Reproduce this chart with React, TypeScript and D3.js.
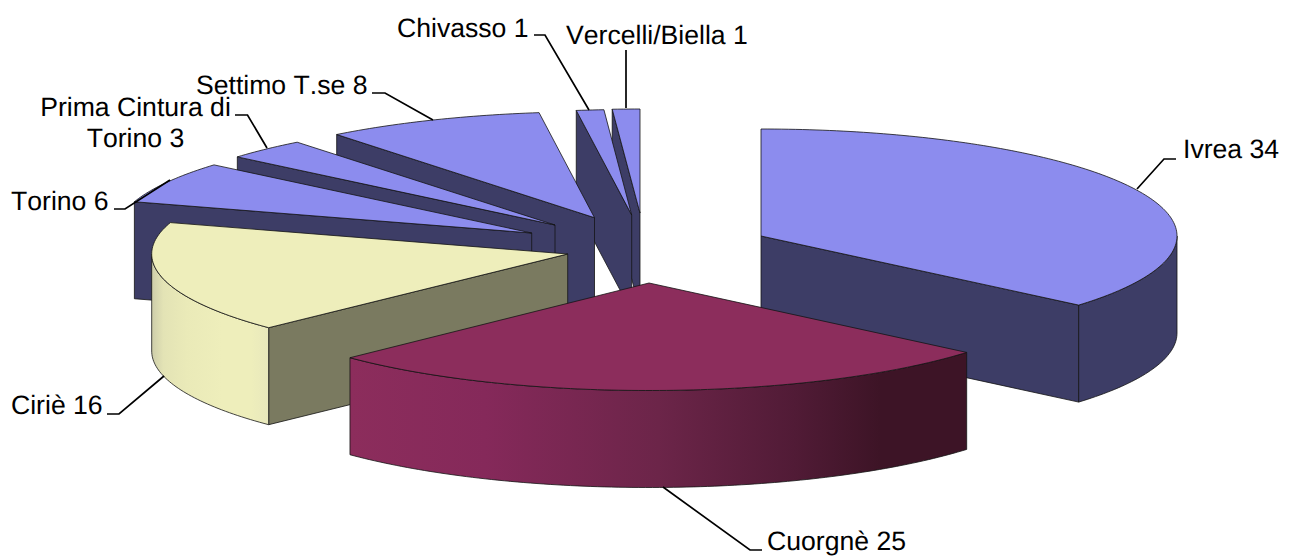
import React from "react";
import * as d3 from "d3";

// ---- data ----
const categories = ["Ivrea", "Cuorgnè", "Ciriè", "Torino", "Prima Cintura di Torino", "Settimo T.se", "Chivasso", "Vercelli/Biella"];
const values = [34, 25, 16, 6, 3, 8, 1, 1];

// ---- layout / style ----
const W = 1290, H = 556;
const cx = 640, cy = 250, rx = 416, depth = 97;
const shiftX = [121, 9, -72.3, -108.3, -85, -45.5, -8.3, 0];
const shiftY = [-14, 33, 4, -17, -25, -32.3, -35, -37];
const radiusY = [107, 107.5, 106, 105.5, 105.5, 106, 105.5, 104];
const topFill = ["#8C8CEE", "#8C2D5C", "#EEEEBB", "#8C8CEE", "#8C8CEE", "#8C8CEE", "#8C8CEE", "#8C8CEE"];
const faceFill = ["#3D3D66", "#3D1426", "#7A7A60", "#3D3D66", "#3D3D66", "#3D3D66", "#3D3D66", "#3D3D66"];
const wallFill = ["#3D3D66", "url(#wallCuorgne)", "url(#wallCirie)", "#3D3D66", "#3D3D66", "#3D3D66", "#3D3D66", "#3D3D66"];
const paintOrder = [7, 6, 5, 4, 3, 0, 2, 1];

const labelLines = [["Ivrea 34"], ["Cuorgnè 25"], ["Ciriè 16"], ["Torino 6"], ["Prima Cintura di", "Torino 3"], ["Settimo T.se 8"], ["Chivasso 1"], ["Vercelli/Biella 1"]];
const labelX = [1183, 767, 11, 11, 135.5, 196, 397, 566];
const labelY = [158, 550, 414, 210, 116, 94, 37, 44];
const labelAnchor = ["start", "start", "start", "start", "middle", "start", "start", "start"];
const leaders: [number, number][][] = [
  [[1176, 159], [1164, 159], [1137, 189]],
  [[762, 550], [750, 550], [663, 487]],
  [[107, 414], [119, 414], [164, 376]],
  [[114, 209], [125, 209], [170, 180]],
  [[235, 115], [247.5, 115], [267, 148]],
  [[372, 93], [385, 93], [433, 120]],
  [[534, 35], [545, 35], [589, 110]],
  [[626, 50], [626, 108]],
];

const FONT = "'Liberation Sans', Arial, sans-serif";
const EDGE = "#141414";

const arcs = d3.pie<number>().sort(null)(values);
const xScale = d3.scaleLinear().domain([-1, 1]).range([-rx, rx]);
const pathOf = d3.line<[number, number]>().x((d) => d[0]).y((d) => d[1]);

function sliceGeometry(i: number) {
  const a0 = arcs[i].startAngle, a1 = arcs[i].endAngle;
  const ax = cx + shiftX[i], ay = cy + shiftY[i];
  const yScale = d3.scaleLinear().domain([-1, 1]).range([radiusY[i], -radiusY[i]]);
  const pt = (a: number, dz = 0): [number, number] => [ax + xScale(Math.sin(a)), ay + yScale(Math.cos(a)) + dz];
  const sweep = (from: number, to: number, dz = 0) => {
    const n = Math.max(2, Math.ceil(Math.abs(to - from) * 60));
    return d3.range(n + 1).map((k) => pt(from + ((to - from) * k) / n, dz));
  };
  const apex: [number, number] = [ax, ay];
  const apexLow: [number, number] = [ax, ay + depth];
  const top = pathOf([apex, ...sweep(a0, a1)]) + "Z";
  const faces: string[] = [];
  if (a0 > Math.PI && a0 < 2 * Math.PI) faces.push(pathOf([apex, pt(a0), pt(a0, depth), apexLow])! + "Z");
  if (a1 > 0 && a1 < Math.PI) faces.push(pathOf([apex, pt(a1), pt(a1, depth), apexLow])! + "Z");
  const w0 = Math.max(a0, Math.PI / 2), w1 = Math.min(a1, (3 * Math.PI) / 2);
  const wall = w1 > w0 ? pathOf([...sweep(w0, w1), ...sweep(w1, w0, depth)])! + "Z" : null;
  return { top, faces, wall };
}

export default function App() {
  return (
    <svg width={W} height={H} viewBox={`0 0 ${W} ${H}`} style={{ position: "absolute", left: 0, top: 0, display: "block", background: "#fff" }}>
      <defs>
        <linearGradient id="wallCuorgne" x1="0" x2="1" y1="0" y2="0">
          <stop offset="0" stopColor="#8C2D5C" />
          <stop offset="0.22" stopColor="#85295A" />
          <stop offset="0.5" stopColor="#6C2549" />
          <stop offset="0.72" stopColor="#511B36" />
          <stop offset="0.86" stopColor="#3D1426" />
          <stop offset="1" stopColor="#3D1426" />
        </linearGradient>
        <linearGradient id="wallCirie" x1="0" x2="1" y1="0" y2="0">
          <stop offset="0" stopColor="#CDCDAA" />
          <stop offset="0.1" stopColor="#E3E3B5" />
          <stop offset="0.3" stopColor="#EAEAB8" />
          <stop offset="0.6" stopColor="#EEEEBB" />
          <stop offset="0.85" stopColor="#EEEEBB" />
          <stop offset="1" stopColor="#E8E8BC" />
        </linearGradient>
      </defs>
      {paintOrder.map((i) => {
        const g = sliceGeometry(i);
        return (
          <g key={categories[i]} stroke={EDGE} strokeWidth={0.8} strokeLinejoin="round">
            {g.faces.map((d, k) => <path key={k} d={d} fill={faceFill[i]} />)}
            {g.wall && <path d={g.wall} fill={wallFill[i]} />}
            <path d={g.top} fill={topFill[i]} />
          </g>
        );
      })}
      {leaders.map((pts, i) => (
        <path key={i} d={pathOf(pts)!} fill="none" stroke="#000" strokeWidth={1.7} />
      ))}
      {labelLines.map((lines, i) => (
        <text key={i} fontFamily={FONT} fontSize={26.6} fill="#000" textAnchor={labelAnchor[i]}
          textRendering="geometricPrecision" style={{ fontKerning: "none" }}>
          {lines.map((t, k) => (
            <tspan key={k} x={labelX[i]} y={labelY[i] + k * 31}>{t}</tspan>
          ))}
        </text>
      ))}
    </svg>
  );
}
